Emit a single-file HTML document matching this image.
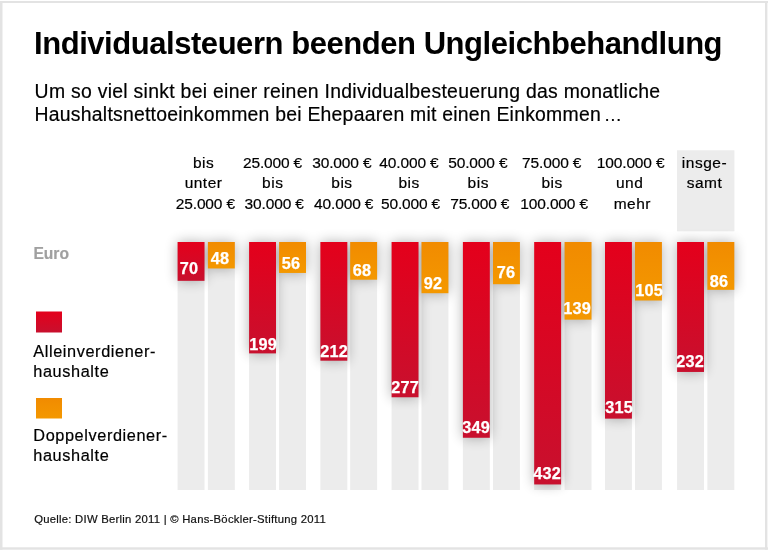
<!DOCTYPE html>
<html lang="de"><head><meta charset="utf-8"><title>Individualsteuern beenden Ungleichbehandlung</title>
<style>
html,body{margin:0;padding:0;background:#fff;}
body{width:768px;height:551px;position:relative;overflow:hidden;font-family:"Liberation Sans",sans-serif;color:#000;-webkit-text-stroke:0.2px;}
svg{position:absolute;left:0;top:0;}
h1{position:absolute;left:34px;top:25.6px;margin:0;font-size:31px;line-height:36px;font-weight:bold;white-space:nowrap;letter-spacing:-0.45px;-webkit-text-stroke:0;}
.sub{position:absolute;left:34.6px;top:79.8px;margin:0;font-size:19.4px;line-height:23.5px;white-space:nowrap;letter-spacing:0.285px;}
.sub span{letter-spacing:0.235px;}
.sub i{display:inline-block;margin-left:-2.9px;font-style:normal;font-size:18.3px;}
.hd{position:absolute;width:120px;margin-left:-60px;text-align:center;font-size:15.5px;line-height:20px;height:20px;white-space:nowrap;}
.hd.w{letter-spacing:0.5px;text-indent:0.5px;}
.hd.n{letter-spacing:-0.15px;text-indent:-0.15px;}
.v{position:absolute;width:60px;margin-left:-30px;height:20px;text-align:center;color:#fff;font-weight:bold;font-size:15.8px;line-height:20px;letter-spacing:0.25px;text-indent:0.25px;white-space:nowrap;transform:scaleX(1.03);-webkit-text-stroke:0.25px;}
.euro{position:absolute;left:33.4px;top:245px;font-weight:bold;font-size:15.6px;line-height:18px;color:#a0a0a0;}
.lg{position:absolute;left:33.3px;font-size:16.3px;line-height:20.9px;white-space:nowrap;letter-spacing:0.6px;}
.src{position:absolute;left:34.2px;top:512.3px;font-size:11.3px;line-height:14px;white-space:nowrap;color:#111;letter-spacing:0.25px;}
</style></head><body>
<svg width="768" height="551" viewBox="0 0 768 551">
<defs>
<linearGradient id="gr" x1="0" y1="0" x2="0" y2="1"><stop offset="0" stop-color="#e4001b"/><stop offset="1" stop-color="#c8102e"/></linearGradient>
<linearGradient id="go" x1="0" y1="0" x2="0" y2="1"><stop offset="0" stop-color="#f18b00"/><stop offset="1" stop-color="#f49800"/></linearGradient>
<filter id="sh" x="-100%" y="-50%" width="300%" height="200%"><feGaussianBlur stdDeviation="6.2"/></filter>
</defs>
<rect x="0" y="1" width="768" height="2" fill="#e3e3e3"/>
<rect x="0" y="547.3" width="768" height="2.4" fill="#e3e3e3"/>
<rect x="0" y="1" width="2.5" height="548.7" fill="#e3e3e3"/>
<rect x="765" y="1" width="2.4" height="548.7" fill="#e3e3e3"/>
<rect x="677" y="150.3" width="57.4" height="81" fill="#ececec"/>
<g fill="#ececec">
<rect x="177.6" y="242.0" width="26.9" height="248.0"/><rect x="207.9" y="242.0" width="26.9" height="248.0"/>
<rect x="249.1" y="242.0" width="26.9" height="248.0"/><rect x="279.1" y="242.0" width="26.9" height="248.0"/>
<rect x="320.4" y="242.0" width="26.9" height="248.0"/><rect x="350.2" y="242.0" width="26.9" height="248.0"/>
<rect x="391.6" y="242.0" width="26.9" height="248.0"/><rect x="421.5" y="242.0" width="26.9" height="248.0"/>
<rect x="462.9" y="242.0" width="26.9" height="248.0"/><rect x="493.0" y="242.0" width="26.9" height="248.0"/>
<rect x="534.2" y="242.0" width="26.9" height="248.0"/><rect x="564.6" y="242.0" width="26.9" height="248.0"/>
<rect x="605.0" y="242.0" width="26.9" height="248.0"/><rect x="635.0" y="242.0" width="26.9" height="248.0"/>
<rect x="677.1" y="242.0" width="26.9" height="248.0"/><rect x="707.4" y="242.0" width="26.9" height="248.0"/>
</g>
<g filter="url(#sh)" opacity="0.31" fill="#000">
<rect x="177.6" y="242.0" width="26.9" height="38.83"/><rect x="207.9" y="242.0" width="26.9" height="26.45"/>
<rect x="249.1" y="242.0" width="26.9" height="111.39"/><rect x="279.1" y="242.0" width="26.9" height="30.95"/>
<rect x="320.4" y="242.0" width="26.9" height="118.70"/><rect x="350.2" y="242.0" width="26.9" height="37.70"/>
<rect x="391.6" y="242.0" width="26.9" height="155.26"/><rect x="421.5" y="242.0" width="26.9" height="51.20"/>
<rect x="462.9" y="242.0" width="26.9" height="195.76"/><rect x="493.0" y="242.0" width="26.9" height="42.20"/>
<rect x="534.2" y="242.0" width="26.9" height="242.45"/><rect x="564.6" y="242.0" width="26.9" height="77.64"/>
<rect x="605.0" y="242.0" width="26.9" height="176.64"/><rect x="635.0" y="242.0" width="26.9" height="58.51"/>
<rect x="677.1" y="242.0" width="26.9" height="129.95"/><rect x="707.4" y="242.0" width="26.9" height="47.83"/>
</g>
<rect x="177.6" y="242.0" width="26.9" height="38.83" fill="url(#gr)"/><rect x="207.9" y="242.0" width="26.9" height="26.45" fill="url(#go)"/>
<rect x="249.1" y="242.0" width="26.9" height="111.39" fill="url(#gr)"/><rect x="279.1" y="242.0" width="26.9" height="30.95" fill="url(#go)"/>
<rect x="320.4" y="242.0" width="26.9" height="118.70" fill="url(#gr)"/><rect x="350.2" y="242.0" width="26.9" height="37.70" fill="url(#go)"/>
<rect x="391.6" y="242.0" width="26.9" height="155.26" fill="url(#gr)"/><rect x="421.5" y="242.0" width="26.9" height="51.20" fill="url(#go)"/>
<rect x="462.9" y="242.0" width="26.9" height="195.76" fill="url(#gr)"/><rect x="493.0" y="242.0" width="26.9" height="42.20" fill="url(#go)"/>
<rect x="534.2" y="242.0" width="26.9" height="242.45" fill="url(#gr)"/><rect x="564.6" y="242.0" width="26.9" height="77.64" fill="url(#go)"/>
<rect x="605.0" y="242.0" width="26.9" height="176.64" fill="url(#gr)"/><rect x="635.0" y="242.0" width="26.9" height="58.51" fill="url(#go)"/>
<rect x="677.1" y="242.0" width="26.9" height="129.95" fill="url(#gr)"/><rect x="707.4" y="242.0" width="26.9" height="47.83" fill="url(#go)"/>
<rect x="36" y="311.5" width="26" height="21" fill="url(#gr)"/>
<rect x="36" y="398" width="26" height="20.5" fill="url(#go)"/>
</svg>
<h1>Individualsteuern beenden Ungleichbehandlung</h1>
<p class="sub">Um so viel sinkt bei einer reinen Individualbesteuerung das monatliche<br><span>Haushaltsnettoeinkommen bei Ehepaaren mit einen Einkommen <i>…</i></span></p>
<div class="hd w" style="left:203.30px;top:152.80px">bis</div>
<div class="hd w" style="left:203.30px;top:173.40px">unter</div>
<div class="hd n" style="left:205.45px;top:194.20px">25.000 €</div>
<div class="hd n" style="left:272.60px;top:152.80px">25.000 €</div>
<div class="hd w" style="left:272.50px;top:173.40px">bis</div>
<div class="hd n" style="left:274.25px;top:194.20px">30.000 €</div>
<div class="hd n" style="left:341.90px;top:152.80px">30.000 €</div>
<div class="hd w" style="left:341.70px;top:173.40px">bis</div>
<div class="hd n" style="left:343.75px;top:194.20px">40.000 €</div>
<div class="hd n" style="left:409.00px;top:152.80px">40.000 €</div>
<div class="hd w" style="left:408.90px;top:173.40px">bis</div>
<div class="hd n" style="left:410.60px;top:194.20px">50.000 €</div>
<div class="hd n" style="left:477.90px;top:152.80px">50.000 €</div>
<div class="hd w" style="left:478.00px;top:173.40px">bis</div>
<div class="hd n" style="left:479.80px;top:194.20px">75.000 €</div>
<div class="hd n" style="left:551.75px;top:152.80px">75.000 €</div>
<div class="hd w" style="left:551.80px;top:173.40px">bis</div>
<div class="hd n" style="left:554.20px;top:194.20px">100.000 €</div>
<div class="hd n" style="left:630.70px;top:152.80px">100.000 €</div>
<div class="hd w" style="left:629.40px;top:173.40px">und</div>
<div class="hd w" style="left:632.10px;top:194.20px">mehr</div>
<div class="hd w" style="left:704.20px;top:152.80px">insge-</div>
<div class="hd w" style="left:704.20px;top:173.40px">samt</div>
<div class="v" style="left:188.50px;top:259.00px">70</div><div class="v" style="left:220.00px;top:248.50px">48</div>
<div class="v" style="left:262.50px;top:335.25px">199</div><div class="v" style="left:291.25px;top:254.25px">56</div>
<div class="v" style="left:333.90px;top:342.25px">212</div><div class="v" style="left:361.75px;top:260.50px">68</div>
<div class="v" style="left:405.40px;top:377.50px">277</div><div class="v" style="left:433.10px;top:273.50px">92</div>
<div class="v" style="left:476.25px;top:417.50px">349</div><div class="v" style="left:505.60px;top:263.00px">76</div>
<div class="v" style="left:547.25px;top:464.25px">432</div><div class="v" style="left:577.00px;top:299.00px">139</div>
<div class="v" style="left:619.10px;top:398.25px">315</div><div class="v" style="left:649.10px;top:281.00px">105</div>
<div class="v" style="left:690.40px;top:352.40px">232</div><div class="v" style="left:719.40px;top:271.75px">86</div>
<div class="euro">Euro</div>
<div class="lg" style="top:340.5px">Alleinverdiener-<br>haushalte</div>
<div class="lg" style="top:424.5px">Doppelverdiener-<br>haushalte</div>
<div class="src">Quelle: DIW Berlin 2011 | © Hans-Böckler-Stiftung 2011</div>
</body></html>
